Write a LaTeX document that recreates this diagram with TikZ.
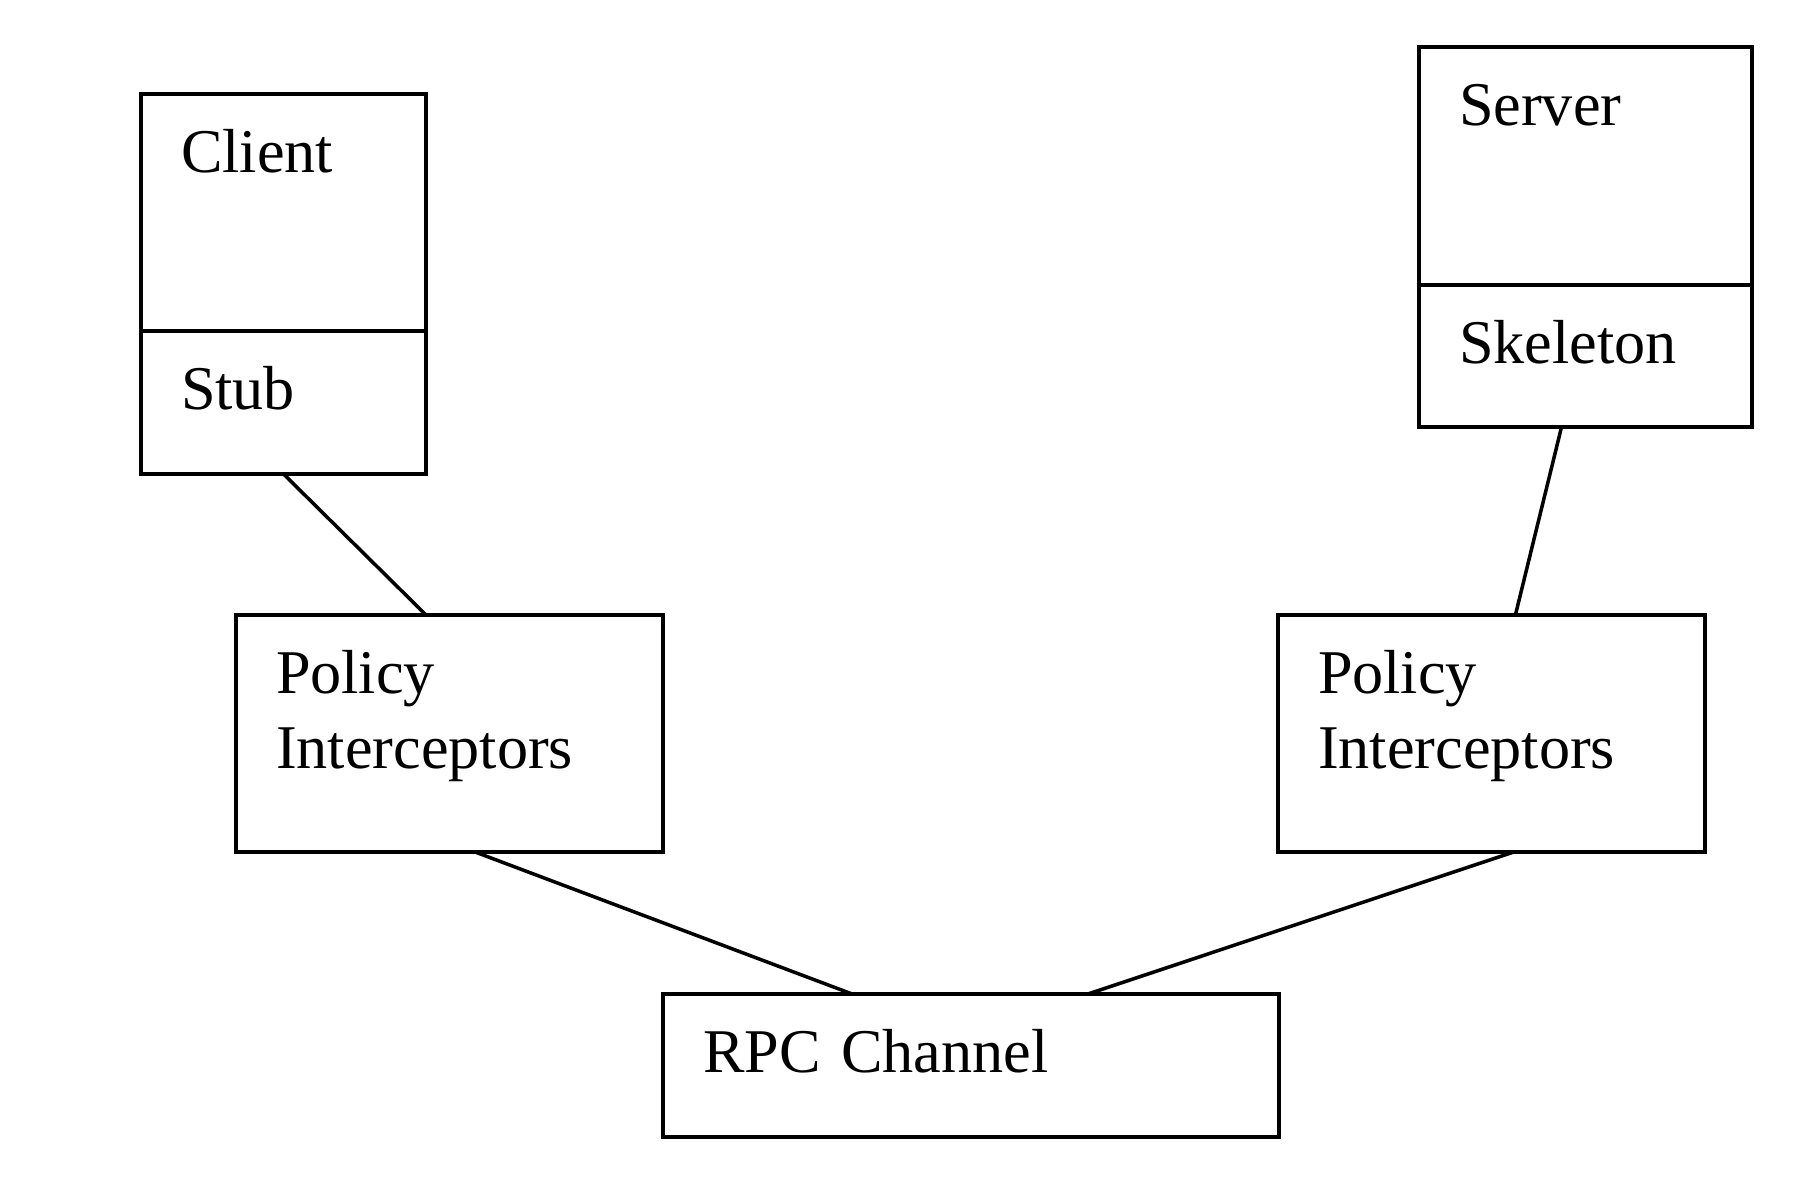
\documentclass[tikz,border=0pt]{standalone}
\usepackage{fontspec}
\setmainfont{Liberation Serif}
\usetikzlibrary{calc}

\begin{document}
\begin{tikzpicture}[
		box/.style ={rectangle,	draw=black,	line width=1pt,	outer sep=0pt,	inner xsep=0.40cm,	inner ysep=0pt,	align=left,	text height=0.79cm,	anchor=north west,	font=\fontsize{17.7}{21.3}\selectfont},
		link/.style ={black,	line width=1pt},
	]

	\useasboundingbox (0,0) rectangle (18,-11.87);

	% nodes
	\node [box, text width=2.05cm, text depth=1.58cm] (client) at (1.41,-0.94) {Client};
	\node [box, text width=2.05cm, text depth=0.64cm] (stub) at (client.south west) {Stub};

	\node [box, text width=2.53cm, text depth=1.59cm] (server) at (14.19,-0.47) {Server};
	\node [box, text width=2.53cm, text depth=0.63cm] (skeleton) at (server.south west) {Skeleton};

	\node [box, text width=3.47cm, text depth=1.58cm] (policyL) at (2.36,-6.15) {Policy\\Interceptors};
	\node [box, text width=3.47cm, text depth=1.58cm] (policyR) at (12.78,-6.15) {Policy\\Interceptors};

	\node [box, text width=5.36cm, text depth=0.64cm] (rpc) at (policyL.east |- 0,-9.94) {RPC Channel};

	% interconnections
	\draw [link] (stub.south) -- ($(policyL.north west)!0.445!(policyL.north east)$);
	\draw [link] ($(skeleton.south west)!0.428!(skeleton.south east)$) -- ($(policyR.north west)!0.556!(policyR.north east)$);
	\draw [link] ($(policyL.south west)!0.56!(policyL.south east)$) -- ($(rpc.north west)!0.307!(rpc.north east)$);
	\draw [link] ($(policyR.south west)!0.552!(policyR.south east)$) -- ($(rpc.north west)!0.69!(rpc.north east)$);

\end{tikzpicture}
\end{document}
